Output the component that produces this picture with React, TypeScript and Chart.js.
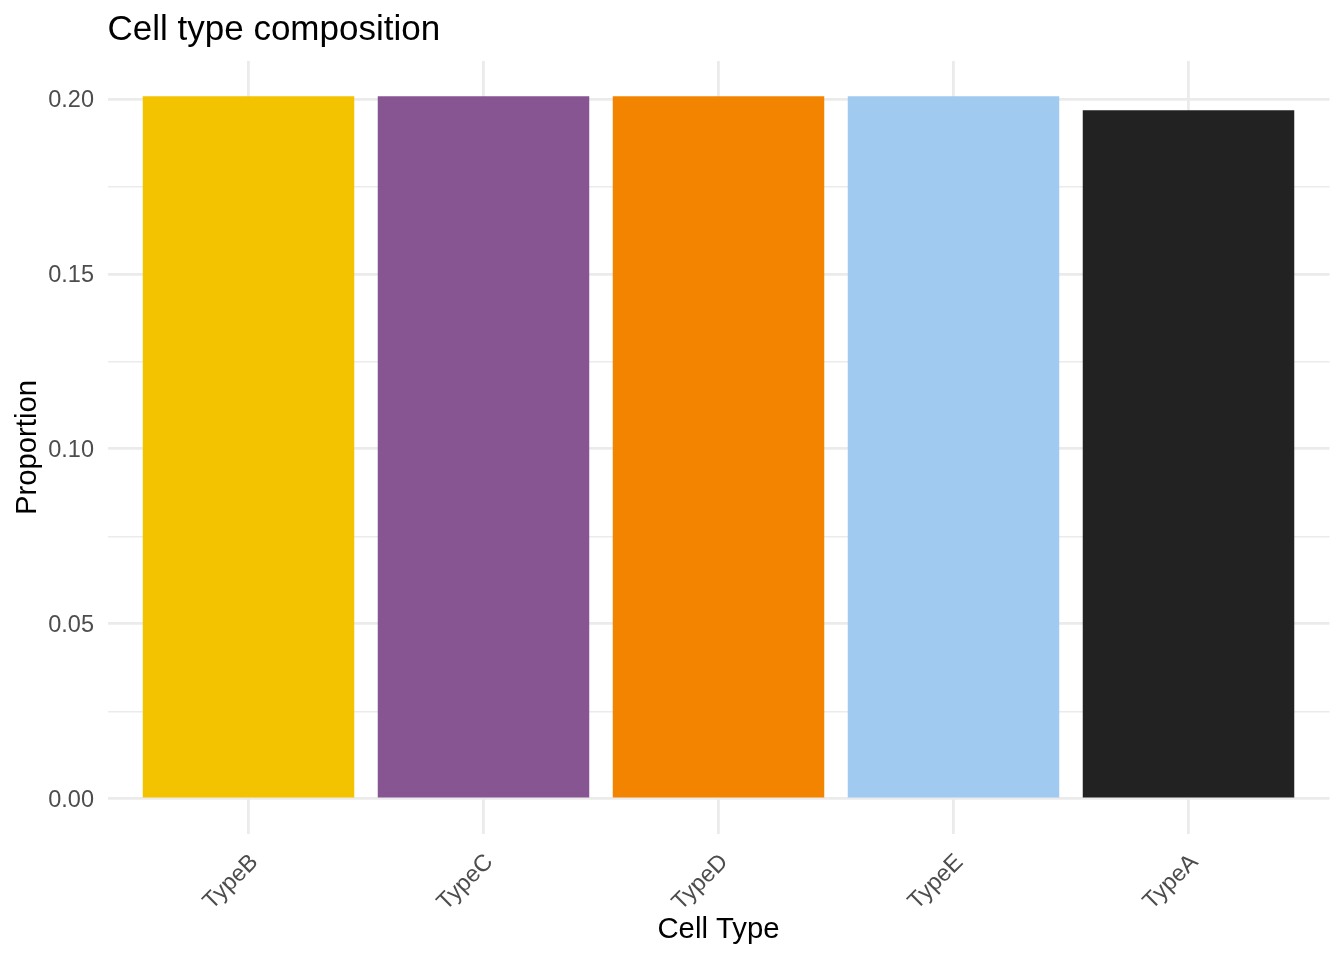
import React, { useEffect, useRef } from "react";
import { Chart, registerables } from "chart.js";

Chart.register(...registerables);

const categories = ["TypeB", "TypeC", "TypeD", "TypeE", "TypeA"];
const proportions = [0.2008, 0.2008, 0.2008, 0.2008, 0.1968];
const barColors = ["#F3C300", "#875692", "#F38400", "#A1CAF1", "#222222"];
const yMajorTicks = [0, 0.05, 0.1, 0.15, 0.2];
const yMinorTicks = [0.025, 0.075, 0.125, 0.175];
const yTickLabels = ["0.00", "0.05", "0.10", "0.15", "0.20"];

const FONT = "'Liberation Sans', Arial, Helvetica, sans-serif";

const textPlugin = {
  id: "ggText",
  afterDraw(chart: any) {
    const { ctx, chartArea } = chart;
    ctx.save();
    ctx.fillStyle = "#000000";
    ctx.textBaseline = "alphabetic";
    ctx.font = `35px ${FONT}`;
    ctx.textAlign = "left";
    ctx.fillText("Cell type composition", chartArea.left, 40);
    ctx.font = `29.3px ${FONT}`;
    ctx.textAlign = "center";
    ctx.fillText("Cell Type", (chartArea.left + chartArea.right) / 2, 938);
    ctx.translate(36, (chartArea.top + chartArea.bottom) / 2);
    ctx.rotate(-Math.PI / 2);
    ctx.fillText("Proportion", 0, 0);
    ctx.restore();
  },
};

export default function App() {
  const canvasRef = useRef<HTMLCanvasElement | null>(null);

  useEffect(() => {
    if (!canvasRef.current) return;
    const maxVal = Math.max(...proportions);
    const expand = maxVal * 0.05;
    const chart = new Chart(canvasRef.current, {
      type: "bar",
      data: {
        datasets: [
          {
            data: categories.map((_, i) => ({ x: i, y: proportions[i] })),
            backgroundColor: barColors,
            borderWidth: 0,
            barPercentage: 0.9,
            categoryPercentage: 1,
          },
        ],
      },
      plugins: [textPlugin],
      options: {
        responsive: false,
        animation: false,
        layout: { padding: { left: 0, top: 61, right: 14.5, bottom: 0 } },
        plugins: {
          legend: { display: false },
          title: { display: false },
          tooltip: { enabled: false },
        },
        scales: {
          x: {
            type: "linear",
            offset: false,
            min: -0.6,
            max: categories.length - 1 + 0.6,
            afterBuildTicks: (scale: any) => {
              scale.ticks = categories.map((_, i) => ({ value: i }));
            },
            afterFit: (scale: any) => {
              scale.height = 126;
            },
            border: { display: false },
            grid: {
              color: "#ebebeb",
              lineWidth: 2.8,
              drawTicks: false,
              offset: false,
            },
            ticks: {
              autoSkip: false,
              minRotation: 45,
              maxRotation: 45,
              padding: 14.5,
              labelOffset: 6,
              color: "#4d4d4d",
              font: { family: FONT, size: 23.5 },
              callback: (v: any) => categories[Math.round(Number(v))] ?? "",
            },
          },
          y: {
            type: "linear",
            min: -expand,
            max: maxVal + expand,
            afterBuildTicks: (scale: any) => {
              const all = [...yMajorTicks, ...yMinorTicks].sort((a, b) => a - b);
              scale.ticks = all.map((v) => ({ value: v }));
            },
            afterFit: (scale: any) => {
              scale.width = 107.5;
            },
            border: { display: false },
            grid: {
              color: "#ebebeb",
              lineWidth: (ctx: any) => {
                const v = ctx.tick ? ctx.tick.value : 0;
                return yMajorTicks.some((m) => Math.abs(m - v) < 1e-9) ? 2.8 : 1.4;
              },
              drawTicks: false,
            },
            ticks: {
              padding: 13.5,
              labelOffset: 2,
              color: "#4d4d4d",
              font: { family: FONT, size: 23.5 },
              callback: (v: any) => {
                const idx = yMajorTicks.findIndex((m) => Math.abs(m - Number(v)) < 1e-9);
                return idx >= 0 ? yTickLabels[idx] : "";
              },
            },
          },
        },
      },
    } as any);
    return () => chart.destroy();
  }, []);

  return (
    <div style={{ position: "absolute", left: 0, top: 0, width: 1344, height: 960, background: "#ffffff" }}>
      <canvas ref={canvasRef} width={1344} height={960} style={{ width: 1344, height: 960, display: "block" }} />
    </div>
  );
}
